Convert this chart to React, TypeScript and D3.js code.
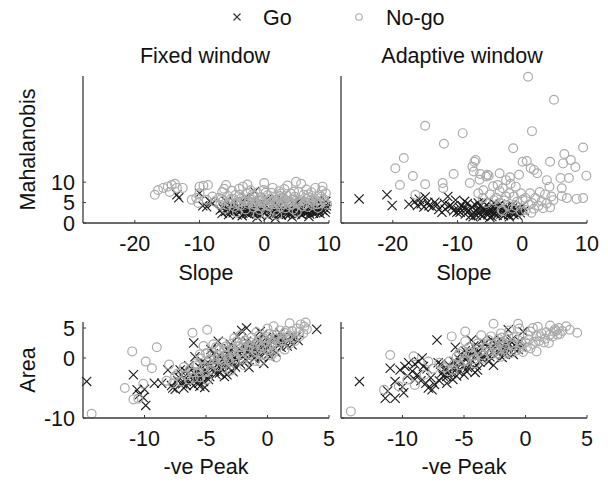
import React from "react";
import * as d3 from "d3";

type P = [number, number];

// Panel titles, legend, axis labels
const panelTitles = ["Fixed window", "Adaptive window"];
const legendLabels = ["Go", "No-go"];
const topYLabel = "Mahalanobis";
const topXLabel = "Slope";
const botYLabel = "Area";
const botXLabel = "-ve Peak";

const slopeTicks = [-20, -10, 0, 10];
const mahalTicks = [0, 5, 10];
const peakTicks = [-10, -5, 0, 5];
const areaTicks = [-10, 0, 5];

const slopeDomain: P = [-28, 10];
const mahalDomain: P = [0, 36];
const peakDomain: P = [-15, 5];
const areaDomain: P = [-10, 6];

// Fixed window: [slope, mahalanobis]
const fixedGoSlope: P[] = [
  [-13.5, 6.9], [-10, 7.3], [-8.9, 4.0], [-8.4, 5.3], [-9.5, 4.2], [-8.0, 4.8], [-1.5, 7.7], [9.5, 5.3], [-13.2, 6.2],
  [-6.8, 3.2], [-6.5, 2.4], [-6.2, 4.1], [-6.0, 2.8], [-5.7, 3.6], [-5.5, 2.1], [-5.2, 4.5], [-5.0, 3.0], [-4.8, 2.5], [-4.6, 5.0],
  [-4.4, 3.4], [-4.2, 2.0], [-4.0, 4.2], [-3.8, 2.8], [-3.6, 3.7], [-3.4, 1.8], [-3.2, 5.2], [-3.0, 2.6], [-2.8, 4.0], [-2.6, 3.1],
  [-2.4, 2.2], [-2.2, 4.6], [-2.0, 3.5], [-1.8, 2.7], [-1.6, 5.6], [-1.4, 3.9], [-1.2, 2.3], [-1.0, 4.3], [-0.8, 3.0], [-0.6, 1.9],
  [-0.4, 5.0], [-0.2, 3.6], [0.0, 2.5], [0.2, 4.4], [0.4, 3.2], [0.6, 1.7], [0.8, 5.4], [1.0, 2.9], [1.2, 3.8], [1.4, 2.2],
  [1.6, 4.8], [1.8, 3.3], [2.0, 2.6], [2.2, 4.1], [2.4, 3.0], [2.6, 1.9], [2.8, 3.7], [3.0, 5.1], [3.2, 2.8], [3.4, 2.1],
  [3.6, 4.0], [3.8, 3.2], [4.0, 2.4], [4.2, 3.6], [4.4, 2.9], [4.6, 4.6], [4.8, 2.2], [5.0, 3.4], [5.2, 2.7], [5.4, 4.2],
  [5.6, 3.0], [5.8, 2.0], [6.0, 3.8], [6.2, 2.5], [6.4, 3.2], [6.6, 4.9], [6.8, 2.8], [7.0, 2.2], [7.2, 3.6], [7.4, 3.0],
  [7.6, 2.4], [7.8, 4.1], [8.0, 3.3], [8.2, 2.7], [8.4, 3.9], [8.6, 2.3], [8.8, 4.5], [9.0, 3.1], [9.2, 3.8], [9.4, 2.6],
  [9.6, 4.2], [-5.9, 5.3], [-2.9, 6.2], [0.5, 6.0], [2.7, 5.8], [5.5, 5.6], [8.1, 5.5], [-1.1, 1.4], [1.7, 1.2], [4.3, 1.5], [6.9, 1.6],
  [-5.4, 2.8], [-4.3, 3.8], [-3.3, 2.4], [-2.3, 3.3], [-1.3, 2.9], [-0.3, 2.8], [0.7, 3.5], [1.5, 3.1], [2.5, 2.3], [3.5, 3.0],
  [4.5, 2.6], [5.5, 2.4], [6.5, 2.6], [7.5, 3.3], [8.5, 3.0], [9.5, 3.4], [5.9, 3.5], [7.9, 2.5], [3.9, 2.1], [1.9, 2.4],
  [-0.9, 2.4], [-2.7, 2.3], [-4.9, 3.8], [-6.4, 3.6],
];

const fixedNoGoSlope: P[] = [
  [-16.9, 6.9], [-16.4, 8.1], [-15.6, 8.6], [-14.9, 8.9], [-14.3, 9.3], [-13.8, 9.6], [-13.5, 8.6], [-12.6, 8.6], [-14.6, 7.6],
  [-11.2, 5.7], [-10.5, 6.1], [-10.0, 8.9], [-9.4, 9.1], [-8.7, 9.3], [-10.0, 7.3], [-8.9, 5.7], [-10.2, 4.9], [-8.0, 6.5], [-7.6, 5.2],
  [-7.0, 6.2], [-6.8, 4.5], [-6.5, 7.6], [-6.3, 5.5], [-5.9, 9.3], [-6.0, 3.5], [-5.6, 6.6], [-5.3, 4.8], [-5.0, 7.9], [-4.8, 5.9],
  [-4.6, 3.9], [-4.4, 6.9], [-4.1, 5.0], [-3.9, 8.4], [-3.7, 4.2], [-3.5, 6.2], [-3.3, 8.9], [-3.1, 5.4], [-2.9, 3.3], [-2.7, 7.2],
  [-2.5, 4.7], [-2.3, 6.0], [-2.1, 8.0], [-1.9, 5.1], [-1.7, 3.8], [-1.5, 6.6], [-1.3, 4.4], [-1.1, 7.5], [-0.9, 5.7], [-0.7, 3.2],
  [-0.5, 6.3], [-0.3, 4.9], [-0.1, 8.1], [0.1, 5.3], [0.3, 2.4], [0.5, 6.8], [0.7, 4.1], [0.9, 5.9], [1.1, 7.4], [1.3, 8.6],
  [1.5, 4.6], [1.7, 3.0], [1.9, 6.4], [2.1, 5.2], [2.3, 7.8], [2.5, 4.0], [2.7, 6.1], [2.9, 5.0], [3.1, 8.3], [3.3, 3.6],
  [3.5, 6.7], [3.7, 5.4], [3.9, 4.3], [4.1, 7.2], [4.3, 5.8], [4.5, 3.3], [4.7, 6.4], [4.9, 10.1], [5.1, 4.8], [5.3, 7.6],
  [5.5, 5.6], [5.7, 9.6], [5.9, 4.1], [6.1, 6.9], [6.3, 5.2], [6.5, 8.2], [6.7, 3.9], [6.9, 6.3], [7.1, 5.0], [7.3, 7.5],
  [7.5, 4.4], [7.7, 6.0], [7.9, 8.6], [8.1, 5.4], [8.3, 3.7], [8.5, 6.8], [8.7, 4.8], [8.9, 7.9], [9.0, 8.9], [9.2, 5.8],
  [9.5, 7.3], [9.7, 4.5], [-4.2, 2.6], [-1.0, 2.1], [2.0, 1.9], [5.0, 2.7], [-6.2, 8.4], [-2.6, 9.4], [0.0, 9.8], [3.6, 9.2],
  [-3.0, 5.6], [-0.4, 5.4], [1.6, 5.6], [3.0, 4.6], [4.0, 5.1], [-1.6, 4.5], [0.6, 4.8], [2.4, 6.6], [-5.2, 5.8], [6.6, 5.9],
  [-6.6, 5.9], [-5.8, 4.4], [-4.5, 4.7], [-3.6, 5.2], [-2.4, 5.3], [-1.4, 5.1], [-0.6, 4.2], [0.4, 4.3], [1.2, 5.1], [2.2, 4.6],
  [3.2, 5.7], [4.2, 4.6], [5.2, 5.2], [6.2, 4.6], [7.2, 5.7], [8.2, 4.6], [9.3, 5.2], [-3.8, 6.9], [-1.8, 7.0], [0.2, 7.4],
  [2.6, 7.2], [4.6, 7.7], [6.8, 7.0], [8.8, 6.4],
];

// Adaptive window: [slope, mahalanobis]
const adaptiveGoSlope: P[] = [
  [-25.2, 5.9], [-20.9, 6.9], [-20.1, 4.3], [-17.5, 4.6], [-16.6, 5.2], [-16.2, 4.3], [-15.9, 5.8], [-15.6, 4.7], [-15.2, 3.9],
  [-15.0, 6.4], [-14.6, 5.0], [-14.4, 4.2], [-13.9, 3.9], [-13.5, 5.1], [-12.9, 3.3], [-12.4, 2.6], [-11.9, 3.4], [-11.5, 6.5],
  [-11.2, 4.2], [-10.6, 3.0], [-10.1, 2.6], [-9.6, 2.6], [-9.3, 4.3], [-9.0, 3.5], [-8.8, 2.2], [-8.5, 4.8], [-8.2, 3.0], [-8.0, 1.8],
  [-7.8, 3.9], [-7.5, 2.6], [-7.3, 4.5], [-7.1, 1.9], [-6.9, 3.4], [-6.7, 2.4], [-6.5, 4.1], [-6.3, 3.0], [-6.1, 1.7], [-5.9, 3.7],
  [-5.7, 2.5], [-5.5, 4.4], [-5.3, 2.0], [-5.1, 3.2], [-4.9, 2.7], [-4.7, 1.6], [-4.5, 3.9], [-4.3, 2.3], [-4.1, 3.3], [-3.9, 1.9],
  [-3.7, 4.2], [-3.5, 2.8], [-3.3, 2.2], [-3.1, 3.6], [-2.9, 1.8], [-2.7, 3.0], [-2.5, 2.4], [-2.3, 4.0], [-2.1, 2.0], [-1.9, 3.1],
  [-1.7, 2.6], [-1.5, 3.7], [-1.3, 2.1], [-1.1, 3.3], [-0.9, 2.8], [-0.7, 1.9], [-0.5, 3.5], [-0.3, 2.5], [0.0, 4.1], [0.3, 3.0],
  [-6.0, 5.2], [-8.9, 5.3], [-10.3, 5.6], [-12.0, 4.8], [-13.2, 4.4], [-9.7, 3.8], [-7.6, 1.5], [-5.0, 1.4], [-2.0, 1.5],
  [-4.4, 4.9], [-6.8, 4.9], [-3.4, 4.6], [-1.6, 4.4],
  [-6.4, 2.0], [-5.2, 2.6], [-4.0, 2.6], [-3.0, 2.6], [-2.4, 3.4], [-1.4, 2.6], [-0.8, 3.8], [-7.0, 2.8], [-8.6, 3.4],
  [-9.8, 3.0], [-10.8, 4.0], [-4.6, 3.0], [-3.6, 3.5], [-5.8, 3.2],
];

const adaptiveNoGoSlope: P[] = [
  [0.9, 35.8], [4.9, 30.2], [-15.0, 23.8], [-9.2, 22.0], [1.5, 22.5], [-12.1, 19.4], [-1.4, 18.3], [9.4, 18.5],
  [-18.3, 15.9], [-19.6, 13.4], [-18.9, 9.3], [-16.9, 11.5], [-15.0, 9.5], [-10.6, 12.0], [-12.3, 9.8], [-12.2, 8.5],
  [-16.5, 6.9], [-7.4, 15.0], [-7.2, 15.4], [-7.7, 13.8], [-7.5, 12.6], [-8.1, 9.8], [-6.6, 10.6], [-5.6, 11.4],
  [-5.4, 11.8], [-5.2, 11.6], [-3.5, 12.2], [-1.9, 11.2], [-3.8, 9.3], [-3.0, 8.5], [-1.0, 8.9], [0.05, 15.0],
  [0.7, 15.2], [1.3, 13.4], [1.8, 13.0], [2.3, 12.2], [4.3, 15.0], [6.5, 16.9], [7.5, 15.4], [6.3, 14.6], [8.2, 13.7],
  [9.9, 11.6], [5.9, 11.0], [7.2, 11.0], [6.1, 8.5], [6.1, 6.6], [6.9, 6.1], [8.4, 5.9], [9.4, 6.1], [4.2, 8.9],
  [4.5, 6.5], [2.7, 7.6], [1.2, 7.3], [0.05, 5.7], [1.5, 4.9], [3.0, 5.3], [0.5, 6.1], [-1.3, 6.5], [-1.0, 4.1],
  [-3.0, 2.9], [-3.5, 4.9], [-5.6, 4.9], [-6.1, 6.1], [-6.8, 7.3], [-2.5, 6.5], [-2.0, 7.3], [-0.2, 7.3],
  [-6.0, 8.0], [-5.0, 7.0], [-4.0, 6.2], [-3.5, 7.8], [-2.8, 5.5], [-2.2, 4.2], [-1.5, 3.5], [-0.8, 5.2], [0.5, 3.2],
  [1.0, 4.5], [1.8, 3.5], [2.5, 4.2], [3.2, 3.6], [3.8, 4.8], [4.3, 3.8], [4.8, 5.6], [2.0, 6.1], [3.5, 7.0],
  [-1.8, 9.6], [-4.5, 9.0], [-2.5, 10.5], [-0.5, 11.8], [-6.5, 12.0], [3.8, 10.5], [-3.2, 3.2], [-0.2, 2.8], [1.4, 2.5], [-4.4, 5.6],
];

// Fixed window: [-ve peak, area]
const fixedGoPeak: P[] = [
  [-14.7, -3.9], [-10.9, -2.8], [-10.6, -5.3], [-10.4, -6.1], [-10.0, -5.2], [-9.9, -7.9], [-10.1, -6.6], [-9.2, -4.2],
  [-8.6, -4.2], [-8.1, -2.0], [-7.1, -2.0], [-7.0, -2.8], [-7.7, -5.0], [-6.6, -3.9], [-6.0, 2.5], [-5.5, -4.7], [-4.0, 2.8],
  [-3.3, -2.8], [-1.7, 5.0], [-0.6, 4.4], [4.0, 4.8],
  [-7.2, -3.2], [-6.9, -4.3], [-6.7, -3.5], [-6.5, -2.6], [-6.3, -4.0], [-6.2, -3.0], [-6.0, -4.6], [-5.8, -2.2], [-5.7, -3.4],
  [-5.5, -1.6], [-5.3, -2.8], [-5.2, -3.9], [-5.0, -1.0], [-4.9, -2.3], [-4.7, -3.1], [-4.5, -0.4], [-4.4, -1.8], [-4.2, -2.7],
  [-4.0, -0.9], [-3.9, 0.4], [-3.7, -2.0], [-3.6, -1.2], [-3.4, 0.2], [-3.2, -1.6], [-3.1, 1.0], [-2.9, -0.5], [-2.8, -2.3],
  [-2.6, 0.8], [-2.5, -0.2], [-2.3, 1.5], [-2.2, -1.0], [-2.0, 0.3], [-1.9, 2.0], [-1.7, -0.4], [-1.6, 1.1], [-1.4, 0.6],
  [-1.3, 2.6], [-1.1, -0.1], [-1.0, 1.6], [-0.8, 0.9], [-0.7, 3.1], [-0.5, 0.2], [-0.4, 1.9], [-0.2, 1.2], [-0.1, 3.4],
  [0.1, 0.7], [0.2, 2.2], [0.4, 1.5], [0.6, 3.0], [0.7, 0.9], [0.9, 2.5], [1.1, 1.8], [1.3, 3.6], [1.5, 2.4], [1.7, 3.0],
  [2.0, 2.2], [2.3, 3.4], [-3.0, 2.3], [-4.6, 1.4], [-5.9, 0.2], [-2.4, 3.6], [-1.5, -1.6], [-0.3, -0.9], [-3.5, -3.1],
  [-6.4, -1.3], [-5.1, -4.9], [1.0, 4.2], [-2.1, 4.6],
  [-7.8, -4.6], [-7.5, -5.2], [-7.3, -3.8], [-6.8, -5.0], [-6.6, -4.6], [-6.1, -3.6], [-5.9, -2.7], [-5.6, -4.2], [-5.4, -3.3],
  [-5.1, -2.0], [-4.8, -3.6], [-4.6, -1.2], [-4.3, -2.2], [-4.1, -0.3], [-3.8, -1.6], [-3.5, -0.6], [-3.3, 0.8], [-3.0, -1.1],
  [-2.7, 0.1], [-2.4, -0.6], [-2.1, 1.1], [-1.8, 0.5], [-1.5, 1.5], [-1.2, 1.0], [-0.9, 2.1], [-0.6, 1.4], [-0.3, 2.5],
  [0.0, 1.8], [0.3, 2.9], [0.5, 1.3], [0.8, 3.4], [1.2, 2.6], [1.6, 2.0], [1.9, 3.6], [2.5, 2.9], [-3.9, -2.5], [-2.6, -1.5],
  [-1.0, 0.1], [0.2, 0.2], [-4.4, 0.7], [-3.2, 1.6], [-1.7, 2.8], [-0.4, 3.9], [-5.3, -0.6], [-6.7, -2.2],
];

const fixedNoGoPeak: P[] = [
  [-14.3, -9.3], [-11.6, -5.0], [-11.0, 1.1], [-9.0, 1.8], [-9.9, -0.6], [-9.4, -1.7], [-10.9, -6.9], [-10.5, -6.8],
  [-10.1, -4.3], [-8.0, -1.1], [-7.7, -4.2], [-6.1, 4.2], [-4.9, 4.7], [-5.2, 2.0], [-4.4, 2.3], [0.5, 5.3], [1.8, 5.8],
  [2.7, 5.6], [2.6, 3.6], [1.8, 2.3], [1.4, 4.2], [-8.2, -3.8], [-7.5, -3.0], [-6.8, -1.5],
  [-6.6, -2.9], [-6.3, -1.9], [-6.0, -3.3], [-5.8, -0.9], [-5.6, -2.4], [-5.4, -0.1], [-5.2, -1.6], [-5.0, 0.8], [-4.8, -0.8],
  [-4.6, -2.0], [-4.5, 1.0], [-4.3, -0.3], [-4.1, -1.4], [-3.9, 1.5], [-3.8, 0.0], [-3.6, -0.9], [-3.4, 1.9], [-3.3, 0.5],
  [-3.1, -0.5], [-2.9, 2.4], [-2.8, 1.0], [-2.6, -0.1], [-2.5, 2.8], [-2.3, 0.9], [-2.1, 1.8], [-2.0, -0.3], [-1.8, 2.9],
  [-1.6, 0.6], [-1.5, 1.9], [-1.3, 3.4], [-1.2, 0.4], [-1.0, 2.2], [-0.9, 1.1], [-0.7, 3.7], [-0.5, 1.6], [-0.4, 0.5],
  [-0.2, 2.7], [0.0, 1.3], [0.1, 4.0], [0.3, 2.1], [0.5, 0.9], [0.6, 3.2], [0.8, 1.8], [1.0, 4.6], [1.2, 2.9], [1.4, 1.4],
  [1.6, 3.5], [2.0, 4.5], [2.2, 2.8], [2.4, 4.9], [2.9, 4.1], [3.2, 4.8], [-3.7, 2.6], [-2.2, 3.8], [-4.9, -3.6], [-0.6, -0.6],
  [0.7, 0.1], [-1.9, -1.2], [3.1, 5.9], [-3.0, -2.1],
  [-7.3, -2.6], [-7.0, -3.9], [-6.4, -3.6], [-6.1, -2.4], [-5.7, -1.2], [-5.5, -3.2], [-5.1, -2.4], [-4.7, -0.2], [-4.4, -1.0],
  [-4.0, 0.5], [-3.7, -0.3], [-3.5, 1.2], [-3.2, -0.2], [-2.9, 1.4], [-2.7, 0.4], [-2.4, 1.9], [-2.1, 0.6], [-1.9, 2.2],
  [-1.6, 1.2], [-1.4, 2.6], [-1.1, 1.6], [-0.8, 2.8], [-0.6, 2.1], [-0.3, 3.3], [-0.1, 2.0], [0.2, 3.1], [0.4, 2.5], [0.7, 3.8],
  [0.9, 2.7], [1.2, 3.3], [1.5, 4.5], [1.8, 3.7], [2.1, 3.3], [2.6, 4.4], [3.0, 5.2], [-0.9, 4.3], [0.0, 4.9], [-2.7, 3.3],
  [-4.2, 1.8], [-5.5, 0.6], [-1.0, -0.5], [0.3, 0.4], [-3.4, -1.7],
];

// Adaptive window: [-ve peak, area]
const adaptiveGoPeak: P[] = [
  [-13.5, -3.9], [-11.4, -6.7], [-11.0, -1.7], [-10.6, -3.9], [-10.6, -6.7], [-10.2, -2.0], [-9.8, -1.4], [-9.5, -0.8],
  [-9.2, -2.2], [-9.0, -3.6], [-8.7, -0.6], [-8.4, 0.0], [-8.3, -1.4], [-7.9, -5.0], [-7.6, -5.3], [-7.4, -4.4], [-7.2, 3.0],
  [-7.1, -0.8], [-6.8, -2.5], [-6.4, -3.1], [-6.4, -4.2], [-5.9, -3.6], [-5.6, -1.4], [-5.1, 0.3], [-4.4, 3.0], [-4.0, 1.4],
  [-1.4, 4.7], [-0.2, 4.4], [-11.2, -5.5], [-10.0, -4.8], [-9.6, -3.0], [-8.8, -2.8], [-8.0, -1.8], [-7.7, -3.3],
  [-6.6, -2.0], [-6.2, -1.2], [-6.0, -2.6], [-5.8, -0.6], [-5.5, -2.2], [-5.3, 0.6], [-5.2, -1.0], [-5.0, -2.8], [-4.8, 0.1],
  [-4.7, -1.6], [-4.5, 1.0], [-4.3, -0.5], [-4.2, 2.0], [-4.0, -1.2], [-3.8, 0.6], [-3.6, 1.6], [-3.5, -0.2], [-3.3, 2.4],
  [-3.2, 0.9], [-3.0, -0.6], [-2.8, 1.6], [-2.7, 2.9], [-2.5, 0.4], [-2.3, 2.1], [-2.2, 1.0], [-2.0, 3.0], [-1.8, 0.7],
  [-1.7, 1.8], [-1.5, 2.5], [-1.3, 1.2], [-1.1, 3.1], [-1.0, 0.6], [-0.8, 2.0], [-0.6, 1.4], [-0.5, 2.8], [-0.3, 1.8],
  [-6.9, -1.0], [-3.9, -2.0], [-2.6, -1.2], [-5.7, 1.8],
  [-7.0, -3.8], [-6.7, -3.0], [-6.5, -1.6], [-6.3, -2.4], [-5.9, -1.8], [-5.6, -3.0], [-5.4, -0.2], [-5.0, -1.5], [-4.9, 1.2],
  [-4.6, -0.8], [-4.4, 0.4], [-4.1, -2.4], [-3.9, 1.0], [-3.7, -0.7], [-3.4, 0.3], [-3.1, 1.9], [-2.9, 0.2], [-2.6, 1.2],
  [-2.4, 2.6], [-2.1, 1.6], [-1.9, 0.1], [-1.6, 1.0], [-1.4, 2.0], [-1.2, 2.8], [-0.9, 1.5], [-0.7, 2.4], [-4.8, -2.2],
  [-3.6, 2.8], [-8.5, -3.8], [-9.9, -5.8], [-9.0, -1.0], [-8.1, -4.2],
];

const adaptiveNoGoPeak: P[] = [
  [-14.2, -8.9], [-11.5, -5.3], [-11.0, 0.5], [-9.1, 0.3], [-7.9, -0.6], [-6.0, 3.6], [-4.9, 4.4], [-2.6, 5.7], [-0.6, 5.7],
  [0.6, 5.0], [2.0, 5.4], [3.3, 5.3], [4.2, 4.2], [0.9, 3.6], [2.2, 3.6], [2.6, 3.9], [1.7, 4.3], [2.4, 4.8], [-10.3, -4.7],
  [-9.6, -3.6], [-9.0, -4.5], [-8.2, -2.8], [-7.5, -1.8], [-7.0, -0.8],
  [-6.6, -1.6], [-6.2, -0.6], [-5.9, -2.0], [-5.6, 0.2], [-5.3, -1.2], [-5.1, 1.2], [-4.8, -0.4], [-4.6, 1.8], [-4.3, 0.4],
  [-4.1, -0.9], [-3.9, 2.4], [-3.7, 1.0], [-3.4, -0.1], [-3.2, 1.7], [-3.0, 3.0], [-2.8, 0.6], [-2.6, 2.2], [-2.4, 1.2],
  [-2.2, 3.2], [-2.0, 0.2], [-1.8, 2.5], [-1.6, 1.5], [-1.4, 3.6], [-1.2, 0.8], [-1.0, 2.1], [-0.8, 1.2], [-0.6, 3.0],
  [-0.4, 2.0], [-0.2, 1.0], [0.0, 2.6], [0.2, 3.8], [0.4, 1.6], [0.6, 2.3], [0.9, 1.1], [1.1, 2.8], [1.3, 4.1], [1.6, 3.2],
  [1.9, 2.5], [2.3, 4.4], [2.7, 5.0], [3.0, 4.5], [-1.3, 4.6], [-0.5, 4.9], [-3.6, 3.8], [-2.0, 4.1], [0.4, 4.4], [1.0, 5.2],
  [-4.9, 2.8],
  [-6.3, -2.2], [-5.8, -1.0], [-5.4, 0.7], [-5.0, -0.6], [-4.5, 0.9], [-4.2, -0.2], [-3.8, 1.5], [-3.5, 0.5], [-3.1, 2.3],
  [-2.9, 1.2], [-2.5, 1.6], [-2.3, 0.7], [-2.1, 2.7], [-1.7, 1.9], [-1.5, 0.9], [-1.1, 2.5], [-0.9, 3.5], [-0.5, 1.5],
  [-0.3, 2.4], [0.1, 1.8], [0.3, 3.1], [0.8, 2.7], [1.2, 3.6], [1.5, 2.6], [2.0, 3.9], [2.5, 4.5], [-2.8, 3.6], [-1.9, 3.4],
  [3.6, 4.7], [2.8, 4.0],
];

const FONT = "Arial, 'Liberation Sans', Helvetica, sans-serif";
const FS = 21.5;
const AXIS = "#3a3a3a";
const GO = "#1a1a1a";
const NOGO = "#ababab";

interface PanelProps {
  x0: number;
  y0: number;
  w: number;
  h: number;
  xDomain: P;
  yDomain: P;
  xTicks: number[];
  yTicks: number[];
  showYLabels: boolean;
  go: P[];
  nogo: P[];
}

function Cross({ cx, cy, s, color }: { cx: number; cy: number; s: number; color: string }) {
  return (
    <path
      d={`M${cx - s},${cy - s}L${cx + s},${cy + s}M${cx - s},${cy + s}L${cx + s},${cy - s}`}
      stroke={color}
      strokeWidth={1.1}
      fill="none"
    />
  );
}

function Panel(p: PanelProps) {
  const x = d3.scaleLinear().domain(p.xDomain).range([p.x0, p.x0 + p.w]);
  const y = d3.scaleLinear().domain(p.yDomain).range([p.y0 + p.h, p.y0]);
  const yb = p.y0 + p.h;
  return (
    <g>
      {p.go.map((d, i) => (
        <Cross key={"g" + i} cx={x(d[0])} cy={y(d[1])} s={4.6} color={GO} />
      ))}
      {p.nogo.map((d, i) => (
        <circle key={"n" + i} cx={x(d[0])} cy={y(d[1])} r={4.4} fill="none" stroke={NOGO} strokeWidth={1.2} />
      ))}
      <line x1={p.x0} x2={p.x0 + p.w} y1={yb} y2={yb} stroke={AXIS} strokeWidth={1.3} />
      <line x1={p.x0} x2={p.x0} y1={p.y0} y2={yb} stroke={AXIS} strokeWidth={1.3} />
      {p.xTicks.map((t) => (
        <g key={"xt" + t}>
          <line x1={x(t)} x2={x(t)} y1={yb} y2={yb - 3} stroke={AXIS} strokeWidth={1} />
          <text x={x(t)} y={yb + 28} textAnchor="middle" fontSize={FS} fontFamily={FONT} fill="#111">
            {t}
          </text>
        </g>
      ))}
      {p.yTicks.map((t) => (
        <g key={"yt" + t}>
          <line x1={p.x0} x2={p.x0 + 3} y1={y(t)} y2={y(t)} stroke={AXIS} strokeWidth={1} />
          {p.showYLabels && (
            <text x={p.x0 - 8} y={y(t)} dy="0.36em" textAnchor="end" fontSize={FS} fontFamily={FONT} fill="#111">
              {t}
            </text>
          )}
        </g>
      ))}
    </g>
  );
}

export default function App() {
  const leftX = 83;
  const rightX = 341;
  const pw = 246;
  const topY = 76;
  const topH = 147;
  const botY = 322;
  const botH = 96;
  return (
    <svg width={608} height={482} style={{ position: "absolute", left: 0, top: 0, background: "#fff" }}>
      {/* legend */}
      <Cross cx={237} cy={17} s={3.5} color="#333" />
      <text x={263} y={25} fontSize={FS} fontFamily={FONT} fill="#111">{legendLabels[0]}</text>
      <circle cx={359} cy={17} r={3.3} fill="none" stroke={NOGO} strokeWidth={1.1} />
      <text x={386} y={25} fontSize={FS} fontFamily={FONT} fill="#111">{legendLabels[1]}</text>

      {/* titles */}
      <text x={205} y={63} textAnchor="middle" fontSize={FS} fontFamily={FONT} fill="#111">{panelTitles[0]}</text>
      <text x={462} y={63} textAnchor="middle" fontSize={FS} fontFamily={FONT} fill="#111">{panelTitles[1]}</text>

      <Panel x0={leftX} y0={topY} w={pw} h={topH} xDomain={slopeDomain} yDomain={mahalDomain} xTicks={slopeTicks} yTicks={mahalTicks} showYLabels={true} go={fixedGoSlope} nogo={fixedNoGoSlope} />
      <Panel x0={rightX} y0={topY} w={pw} h={topH} xDomain={slopeDomain} yDomain={mahalDomain} xTicks={slopeTicks} yTicks={mahalTicks} showYLabels={false} go={adaptiveGoSlope} nogo={adaptiveNoGoSlope} />
      <Panel x0={leftX} y0={botY} w={pw} h={botH} xDomain={peakDomain} yDomain={areaDomain} xTicks={peakTicks} yTicks={areaTicks} showYLabels={true} go={fixedGoPeak} nogo={fixedNoGoPeak} />
      <Panel x0={rightX} y0={botY} w={pw} h={botH} xDomain={peakDomain} yDomain={areaDomain} xTicks={peakTicks} yTicks={areaTicks} showYLabels={false} go={adaptiveGoPeak} nogo={adaptiveNoGoPeak} />

      {/* axis labels */}
      <text x={206} y={280} textAnchor="middle" fontSize={FS} fontFamily={FONT} fill="#111">{topXLabel}</text>
      <text x={464} y={280} textAnchor="middle" fontSize={FS} fontFamily={FONT} fill="#111">{topXLabel}</text>
      <text x={206} y={474} textAnchor="middle" fontSize={FS} fontFamily={FONT} fill="#111">{botXLabel}</text>
      <text x={464} y={474} textAnchor="middle" fontSize={FS} fontFamily={FONT} fill="#111">{botXLabel}</text>
      <text transform={`translate(35,${topY + topH / 2}) rotate(-90)`} textAnchor="middle" fontSize={FS} fontFamily={FONT} fill="#111">{topYLabel}</text>
      <text transform={`translate(35,${botY + botH / 2}) rotate(-90)`} textAnchor="middle" fontSize={FS} fontFamily={FONT} fill="#111">{botYLabel}</text>
    </svg>
  );
}
